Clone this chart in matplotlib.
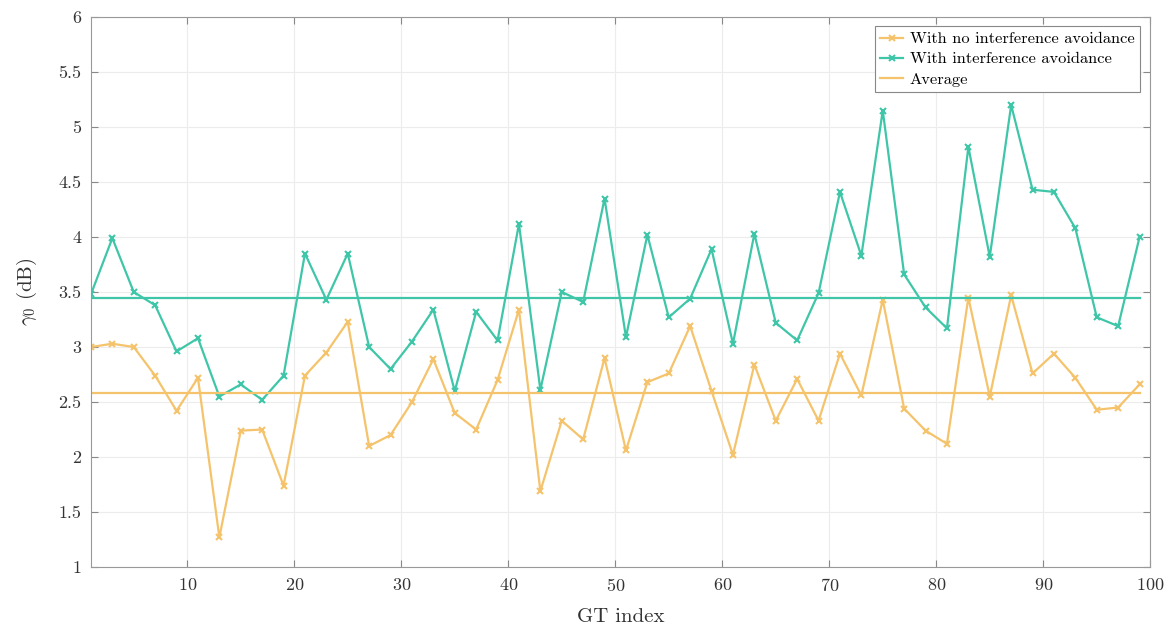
import numpy as np
import matplotlib
matplotlib.use("Agg")
import matplotlib.pyplot as plt

plt.rcParams["font.family"] = ["cmr10"]
plt.rcParams["mathtext.fontset"] = "cm"
plt.rcParams["axes.formatter.use_mathtext"] = True

gt_index = list(range(1, 100, 2))

no_avoid = [3.00, 3.03, 3.00, 2.74, 2.42, 2.72, 1.27, 2.24, 2.25, 1.74,
            2.74, 2.95, 3.23, 2.10, 2.20, 2.50, 2.89, 2.40, 2.25, 2.70,
            3.34, 1.69, 2.33, 2.16, 2.90, 2.06, 2.68, 2.76, 3.19, 2.60,
            2.02, 2.84, 2.33, 2.71, 2.33, 2.94, 2.56, 3.43, 2.44, 2.24,
            2.12, 3.45, 2.55, 3.47, 2.76, 2.94, 2.72, 2.43, 2.45, 2.66]

with_avoid = [3.48, 3.99, 3.50, 3.38, 2.96, 3.08, 2.55, 2.66, 2.52, 2.74,
              3.85, 3.43, 3.85, 3.00, 2.80, 3.05, 3.34, 2.60, 3.32, 3.06,
              4.12, 2.61, 3.50, 3.41, 4.35, 3.09, 4.02, 3.27, 3.44, 3.89,
              3.03, 4.03, 3.22, 3.06, 3.49, 4.41, 3.83, 5.15, 3.66, 3.36,
              3.17, 4.82, 3.82, 5.20, 4.43, 4.41, 4.08, 3.27, 3.19, 4.00]

avg_no_avoid = 2.58
avg_with_avoid = 3.45

orange = "#F5C36B"
teal = "#3FC6A8"

fig = plt.figure(figsize=(11.66, 6.26), dpi=100)
ax = fig.add_axes([0.078, 0.0942, 0.9085, 0.8786])

ax.plot(gt_index, no_avoid, color=orange, lw=1.6, marker="x", ms=4, mew=1.5,
        label="With no interference avoidance")
ax.plot(gt_index, with_avoid, color=teal, lw=1.6, marker="x", ms=4, mew=1.5,
        label="With interference avoidance")
ax.plot([gt_index[0], gt_index[-1]], [avg_no_avoid] * 2, color=orange, lw=1.6,
        label="Average")
ax.plot([gt_index[0], gt_index[-1]], [avg_with_avoid] * 2, color=teal, lw=1.6)

ax.set_xlim(1, 100)
ax.set_ylim(1, 6)
ax.set_xticks(range(10, 101, 10))
ax.set_yticks(np.arange(1, 6.01, 0.5))
ax.set_yticklabels(["1", "1.5", "2", "2.5", "3", "3.5", "4", "4.5", "5", "5.5", "6"])
ax.grid(True, color="#ececec", lw=0.8)
ax.set_axisbelow(True)
ax.tick_params(direction="in", top=True, right=True, length=5, color="#888888",
               labelsize=13, labelcolor="#333333", pad=7)
for s in ax.spines.values():
    s.set_color("#999999")

ax.set_xlabel("GT index", fontsize=15, color="#333333", labelpad=10)
ax.set_ylabel(r"$\gamma_0$ (dB)", fontsize=15, color="#333333", labelpad=14)

leg = ax.legend(loc="upper right", fontsize=11.8, fancybox=False, framealpha=1,
                edgecolor="#888888", borderpad=0.35, labelspacing=0.35,
                handlelength=1.4, handletextpad=0.4, borderaxespad=0,
                bbox_to_anchor=(0.9906, 0.9836))
leg.get_frame().set_linewidth(0.8)

fig.savefig("out.png", dpi=100)
